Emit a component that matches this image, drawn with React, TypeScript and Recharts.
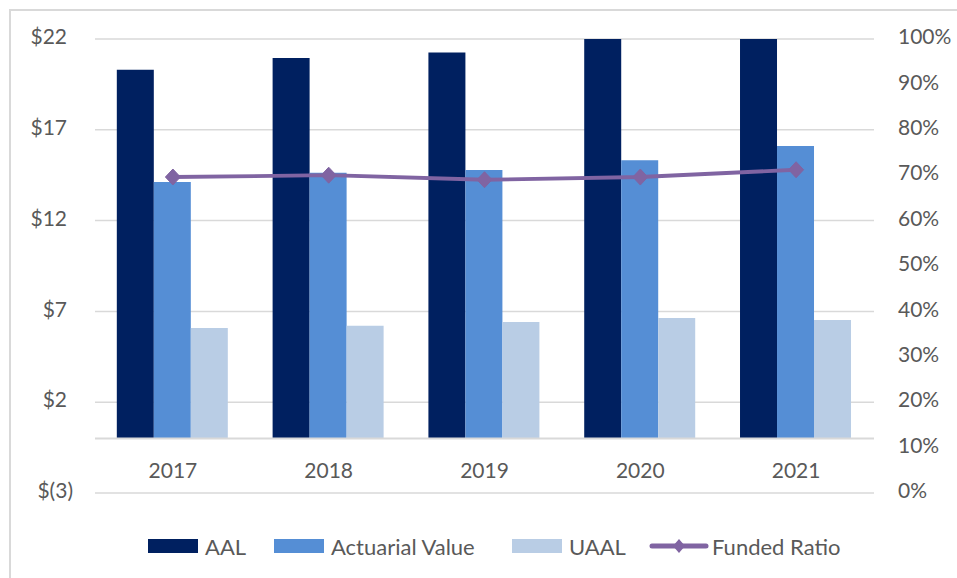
import React from 'react';
import {
  ComposedChart,
  Bar,
  Line,
  XAxis,
  YAxis,
  CartesianGrid,
  ReferenceLine,
} from 'recharts';

const categories = ['2017', '2018', '2019', '2020', '2021'];
const aal = [20.3, 20.96, 21.25, 22.06, 22.1];
const actuarialValue = [14.12, 14.64, 14.78, 15.33, 16.11];
const uaal = [6.08, 6.21, 6.41, 6.64, 6.53];
const fundedRatio = [0.696, 0.7, 0.69, 0.696, 0.712];
const leftTicks = [-3, 2, 7, 12, 17, 22];
const rightTicks = [0, 0.1, 0.2, 0.3, 0.4, 0.5, 0.6, 0.7, 0.8, 0.9, 1];

const seriesNames = ['AAL', 'Actuarial Value', 'UAAL', 'Funded Ratio'];
const colors = ['#002060', '#558ED5', '#B9CDE5', '#8064A2'];

const data = categories.map((c, i) => ({
  year: c,
  aal: aal[i],
  actuarial: actuarialValue[i],
  uaal: uaal[i],
  funded: fundedRatio[i],
}));

const FONT = 'Lato, "Open Sans", sans-serif';
const TEXT = '#595959';

const LeftTick = (props: any) => {
  const { x, y, payload } = props;
  const v = payload.value as number;
  const label = v < 0 ? `$(${-v})` : `$${v}`;
  return (
    <text
      x={v < 0 ? x + 6 : x}
      y={y}
      dy="0.25em"
      textAnchor="end"
      fill={TEXT}
      fontSize={21}
      fontFamily={FONT}
    >
      {label}
    </text>
  );
};

const RightTick = (props: any) => {
  const { x, y, payload } = props;
  return (
    <text
      x={x}
      y={y}
      dy="0.25em"
      textAnchor="start"
      fill={TEXT}
      fontSize={21}
      fontFamily={FONT}
    >
      {`${Math.round(payload.value * 100)}%`}
    </text>
  );
};

const XTick = (props: any) => {
  const { x, y, payload } = props;
  return (
    <text
      x={x}
      y={y}
      dy={-23}
      textAnchor="middle"
      fill={TEXT}
      fontSize={21}
      fontFamily={FONT}
    >
      {payload.value}
    </text>
  );
};

const Diamond = (props: any) => {
  const { cx, cy } = props;
  if (cx == null || cy == null) return null;
  return (
    <polygon
      points={`${cx},${cy - 8} ${cx + 7.5},${cy} ${cx},${cy + 8} ${cx - 7.5},${cy}`}
      fill={colors[3]}
      stroke={colors[3]}
    />
  );
};

const legendLefts = [148, 274, 512, 649];

const Legend = () => (
  <div style={{ position: 'absolute', left: 0, top: 530, width: 957, height: 32 }}>
    {seriesNames.map((name, i) => (
      <div
        key={name}
        style={{
          position: 'absolute',
          left: legendLefts[i],
          top: 0,
          height: 32,
          display: 'flex',
          alignItems: 'center',
          fontFamily: FONT,
          fontSize: 22,
          color: TEXT,
          whiteSpace: 'nowrap',
        }}
      >
        {i < 3 ? (
          <div style={{ width: 50, height: 14, background: colors[i], marginRight: 7 }} />
        ) : (
          <svg width={60} height={18} style={{ marginRight: 3 }}>
            <line x1={3} y1={9} x2={57} y2={9} stroke={colors[3]} strokeWidth={5} strokeLinecap="round" />
            <polygon points="30,2 36,9 30,16 24,9" fill={colors[3]} />
          </svg>
        )}
        <span>{name}</span>
      </div>
    ))}
  </div>
);

export default function App() {
  return (
    <div style={{ position: 'absolute', left: 0, top: 0, width: 957, height: 578, background: '#fff', overflow: 'hidden' }}>
      <div
        style={{
          position: 'absolute',
          left: 9,
          top: 9,
          width: 960,
          height: 580,
          borderLeft: '2px solid #d9d9d9',
          borderTop: '2px solid #d9d9d9',
        }}
      />
      <div style={{ position: 'absolute', left: 0, top: 0 }}>
        <ComposedChart
          width={957}
          height={578}
          data={data}
          margin={{ top: 39, right: 0, bottom: 55, left: 0 }}
          barCategoryGap="14%"
          barGap={0}
        >
          <CartesianGrid yAxisId="left" vertical={false} stroke="#d9d9d9" strokeWidth={1.5} />
          <XAxis
            dataKey="year"
            height={30}
            axisLine={false}
            tickLine={false}
            tick={<XTick />}
            interval={0}
          />
          <YAxis
            yAxisId="left"
            orientation="left"
            width={95}
            domain={[-3, 22]}
            ticks={leftTicks}
            allowDataOverflow
            axisLine={false}
            tickLine={false}
            tickSize={6}
            tickMargin={22}
            tick={<LeftTick />}
            interval={0}
          />
          <YAxis
            yAxisId="right"
            orientation="right"
            width={83}
            domain={[0, 1]}
            ticks={rightTicks}
            allowDataOverflow
            axisLine={false}
            tickLine={false}
            tickSize={6}
            tickMargin={18}
            tick={<RightTick />}
            interval={0}
          />
          <ReferenceLine yAxisId="left" y={0} stroke="#d9d9d9" strokeWidth={2} />
          <Bar yAxisId="left" dataKey="aal" name={seriesNames[0]} fill={colors[0]} isAnimationActive={false} />
          <Bar yAxisId="left" dataKey="actuarial" name={seriesNames[1]} fill={colors[1]} isAnimationActive={false} />
          <Bar yAxisId="left" dataKey="uaal" name={seriesNames[2]} fill={colors[2]} isAnimationActive={false} />
          <Line
            yAxisId="right"
            dataKey="funded"
            name={seriesNames[3]}
            stroke={colors[3]}
            strokeWidth={3.8}
            dot={<Diamond />}
            activeDot={false}
            isAnimationActive={false}
          />
        </ComposedChart>
      </div>
      <Legend />
    </div>
  );
}
